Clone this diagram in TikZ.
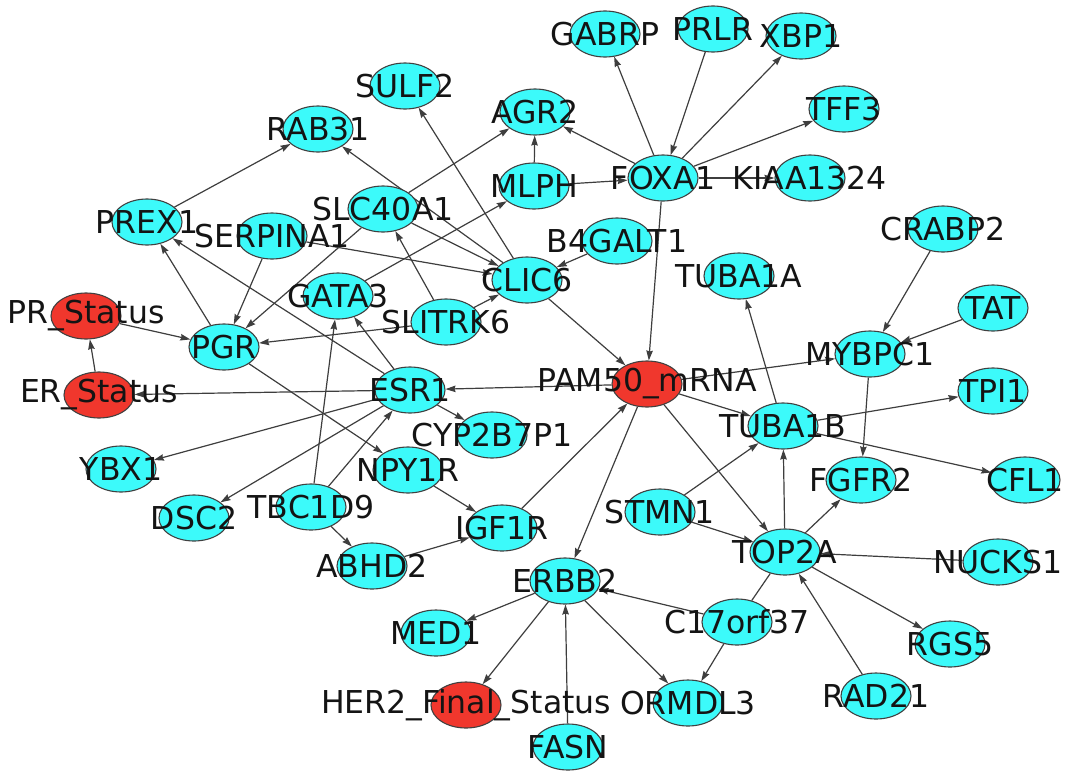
\documentclass[tikz,border=0pt]{standalone}
\usepackage{fontspec}
\setmainfont{DejaVu Sans}
\usetikzlibrary{arrows.meta,shapes.geometric,backgrounds}
\definecolor{genecyan}{RGB}{60,250,250}
\definecolor{statred}{RGB}{240,55,45}
\definecolor{edgegray}{RGB}{62,62,62}

\def\genelist{rab31/318/129/RAB31/gene, prex1/147/222/PREX1/gene,
  serpina1/272/236/SERPINA1/gene, slc40a1/383/209/SLC40A1/gene,
  sulf2/405/86/SULF2/gene, agr2/535/112/AGR2/gene, mlph/534/186/MLPH/gene,
  gabrp/605/34/GABRP/gene, prlr/713/29/PRLR/gene, xbp1/801/36/XBP1/gene,
  tff3/844/109/TFF3/gene, kiaa/810/178/KIAA1324/gene, foxa1/663/178/FOXA1/gene,
  crabp2/943/229/CRABP2/gene, b4galt1/617/241/B4GALT1/gene,
  tuba1a/739/276/TUBA1A/gene, clic6/527/280/CLIC6/gene,
  slitrk6/446/322/SLITRK6/gene, gata3/338/296/GATA3/gene, pgr/224/347/PGR/gene,
  prstat/86/316/PR\_Status/status, erstat/99/395/ER\_Status/status,
  esr1/410/390/ESR1/gene, pam50/647/384/PAM50\_mRNA/status,
  cyp/492/435/CYP2B7P1/gene, npy1r/408/470/NPY1R/gene, ybx1/121/469/YBX1/gene,
  dsc2/194/518/DSC2/gene, tbc1d9/311/507/TBC1D9/gene, abhd2/372/566/ABHD2/gene,
  igf1r/502/528/IGF1R/gene, erbb2/565/581/ERBB2/gene, med1/436/633/MED1/gene,
  her2/466/705/HER2\_Final\_Status/status, fasn/568/747/FASN/gene,
  ormdl3/688/703/ORMDL3/gene, stmn1/660/512/STMN1/gene, top2a/785/552/TOP2A/gene,
  nucks1/998/562/NUCKS1/gene, c17/737/622/C17orf37/gene, rgs5/950/644/RGS5/gene,
  rad21/876/696/RAD21/gene, fgfr2/861/480/FGFR2/gene, cfl1/1025/480/CFL1/gene,
  tpi1/993/391/TPI1/gene, tat/993/308/TAT/gene, mybpc1/870/354/MYBPC1/gene,
  tuba1b/783/426/TUBA1B/gene}

\begin{document}
\begin{tikzpicture}[x=1pt,y=-1pt,
  gene/.style={ellipse, draw=black!75, line width=1.1pt, fill=genecyan,
    minimum width=70pt, minimum height=46pt, inner sep=0pt},
  status/.style={gene, fill=statred},
  genetext/.style={font=\fontsize{31.5}{35}\selectfont, text=black!92, inner sep=0pt},
  link/.style={draw=edgegray, line width=1.2pt,
    -{Stealth[length=10pt,width=6.5pt,inset=1pt]}}]
\useasboundingbox (0,0) rectangle (1070,771);

% ellipses first, names on top
\foreach \n/\x/\y/\t/\s in \genelist {
  \node[\s] (\n) at (\x,\y) {};
}
\foreach \n/\x/\y/\t/\s in \genelist {
  \node[genetext] (\n-t) at (\n) {\t};
}

\begin{scope}[on background layer]
\foreach \a/\b in {prex1/rab31, clic6/rab31, clic6/sulf2, slc40a1/agr2,
  mlph/agr2, foxa1/agr2, mlph/foxa1, foxa1/gabrp, prlr/foxa1, foxa1/xbp1,
  foxa1/tff3, foxa1/kiaa, foxa1/pam50, b4galt1/clic6, slc40a1/clic6,
  serpina1/clic6, slitrk6/clic6, slitrk6/slc40a1, gata3/mlph, slc40a1/pgr,
  serpina1/pgr, slitrk6/pgr, prstat/pgr, erstat/prstat, pgr/prex1, esr1/prex1,
  esr1/gata3, tbc1d9/gata3, pgr/npy1r, esr1/erstat, esr1/ybx1, esr1/dsc2,
  esr1/cyp, tbc1d9/esr1, tbc1d9/abhd2, npy1r/igf1r, abhd2/igf1r, igf1r/pam50,
  clic6/pam50, pam50/esr1, pam50/mybpc1, pam50/tuba1b, pam50/erbb2,
  pam50/top2a, stmn1/tuba1b, stmn1/top2a, top2a/tuba1b, tuba1b/tuba1a,
  tuba1b/tpi1, tuba1b/cfl1, crabp2/mybpc1, tat/mybpc1, mybpc1/fgfr2,
  top2a/fgfr2, nucks1/top2a, top2a/rgs5, rad21/top2a, c17/erbb2, c17/ormdl3,
  erbb2/med1, erbb2/her2, erbb2/ormdl3, fasn/erbb2} {
  \draw[link] (\a) -- (\b);
}
\draw[link, -] (top2a) -- (c17);
\end{scope}
\end{tikzpicture}
\end{document}
